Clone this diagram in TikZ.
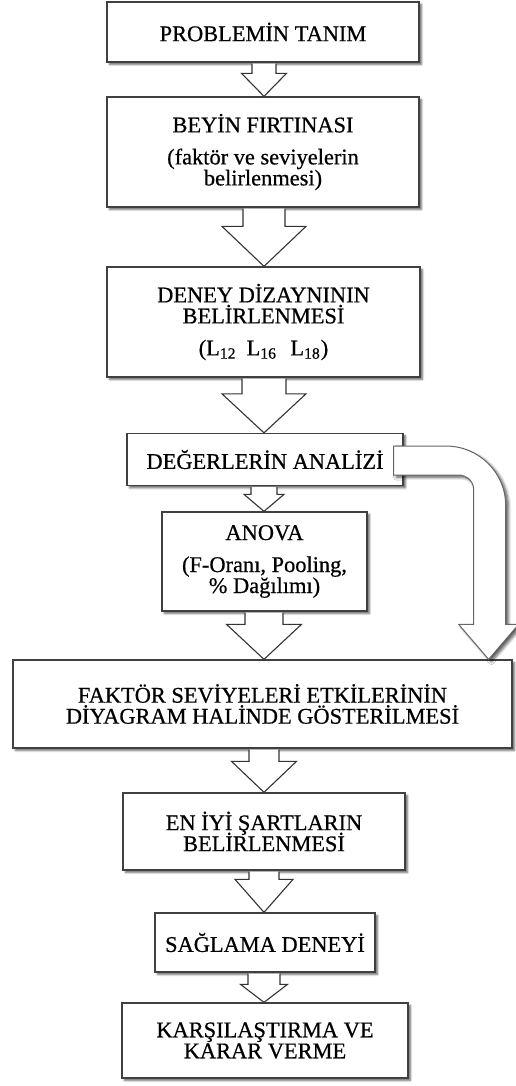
\documentclass[tikz,border=0pt]{standalone}
\usepackage{fontspec}
\setmainfont{Liberation Serif}[FakeBold=0.6]
\usetikzlibrary{calc,shadows.blur}

% text font of the boxes: tight, fixed line spacing
\newcommand\boxfont{\fontsize{11.2}{10.5}\selectfont\lineskiplimit=-10pt\relax}

% straight block arrow between two boxes:
% #1 upper box, #2 lower box, #3 shaft half width, #4 head half width, #5 head length
\newcommand\flowarrow[5]{%
  \draw[blockarrow]
    ($(#1.south -| axis)+(-#3,1)$)
    -- ($(#2.north -| axis)+(-#3,-#5)$)
    -- ($(#2.north -| axis)+(-#4,-#5)$)
    -- (#2.north -| axis)
    -- ($(#2.north -| axis)+(#4,-#5)$)
    -- ($(#2.north -| axis)+(#3,-#5)$)
    -- ($(#1.south -| axis)+(#3,1)$);}

\begin{document}
\begin{tikzpicture}[x=0.5pt,y=-0.5pt,
  box/.style={draw=black!75, line width=0.65pt, fill=white, inner sep=0pt,
    align=center, text=black, font=\boxfont,
    blur shadow={shadow xshift=1.2pt, shadow yshift=-1.2pt,
      shadow blur radius=1pt, shadow blur steps=4, shadow opacity=60}},
  blockarrow/.style={draw=black!80, line width=0.55pt, fill=white},
  curvearrow/.style={draw=black!60, line width=0.5pt, fill=white,
    blur shadow={shadow xshift=1.4pt, shadow yshift=-1.2pt,
      shadow blur radius=1.4pt, shadow blur steps=5, shadow opacity=65}}]
\useasboundingbox (0,0) rectangle (515,1086);
\coordinate (axis) at (264,0);

\node[box, minimum width=156pt, minimum height=30pt] (b1) at (263,32)
  {PROBLEMİN TANIM};
\node[box, minimum width=156pt, minimum height=55pt] (b2) at (263,152)
  {BEYİN FIRTINASI\\[5.5pt](faktör ve seviyelerin\\belirlenmesi)};
\node[box, minimum width=156.5pt, minimum height=55pt] (b3) at (263.5,322)
  {DENEY DİZAYNININ\\BELİRLENMESİ\\[5.5pt](L\textsubscript{12}\hspace{0.45em}L\textsubscript{16}\hspace{0.6em}L\textsubscript{18})};
\node[box, minimum width=138pt, minimum height=26pt] (b4) at (265,459.5)
  {DEĞERLERİN ANALİZİ};
\node[box, minimum width=102.5pt, minimum height=49.5pt] (b5) at (264.5,561.5)
  {ANOVA\\[5.5pt](F-Oranı, Pooling,\\\% Dağılımı)};
\node[box, minimum width=249.5pt, minimum height=44pt] (b6) at (262.5,704)
  {FAKTÖR SEVİYELERİ ETKİLERİNİN\\DİYAGRAM HALİNDE GÖSTERİLMESİ};
\node[box, minimum width=141pt, minimum height=38.5pt] (b7) at (264,831.5)
  {EN İYİ ŞARTLARIN\\BELİRLENMESİ};
\node[box, minimum width=110pt, minimum height=29.5pt] (b8) at (265,942.5)
  {SAĞLAMA DENEYİ};
\node[box, minimum width=143pt, minimum height=37.5pt] (b9) at (265,1040.5)
  {KARŞILAŞTIRMA VE\\KARAR VERME};

% main flow
\flowarrow{b1}{b2}{12}{22.5}{23}
\flowarrow{b2}{b3}{21}{42}{40}
\flowarrow{b3}{b4}{22}{42}{39}
\flowarrow{b4}{b5}{13}{20}{17}
\flowarrow{b5}{b6}{19}{37.5}{35}
\flowarrow{b6}{b7}{15}{32.5}{31}
\flowarrow{b7}{b8}{15}{29}{33}
\flowarrow{b8}{b9}{16}{23.5}{18}

% bypass arrow from the analysis box down to the factor-level box
\coordinate (ctip) at ($(b6.north east)+(-24,0)$);
\draw[curvearrow]
  ($(b4.east)+(-10,-13.5)$)
  -- ($(b4.east)+(42,-13.5)$)
  .. controls ($(b4.east)+(75,-13.5)$) and ($(ctip)+(17,-187)$) .. ($(ctip)+(17,-154)$)
  -- ($(ctip)+(17,-35)$)
  -- ($(ctip)+(30,-35)$)
  -- (ctip)
  -- ($(ctip)+(-30,-35)$)
  -- ($(ctip)+(-15,-35)$)
  -- ($(ctip)+(-15,-170)$)
  .. controls ($(ctip)+(-15,-178)$) and ($(b4.east)+(63,15.5)$) .. ($(b4.east)+(55,15.5)$)
  -- ($(b4.east)+(-10,15.5)$)
  -- cycle;
\end{tikzpicture}
\end{document}
